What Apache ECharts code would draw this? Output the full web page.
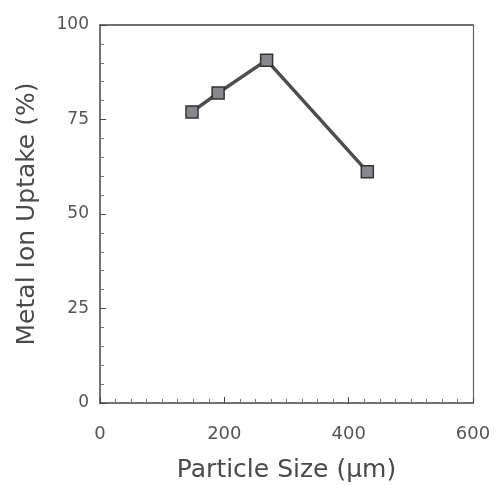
<!DOCTYPE html>
<html>
<head>
<meta charset="utf-8">
<script src="https://cdn.jsdelivr.net/npm/echarts@6/dist/echarts.min.js"></script>
<style>
  html, body { margin: 0; padding: 0; background: #fff; }
  #chart { width: 497px; height: 485px; }
</style>
</head>
<body>
<div id="chart"></div>
<script>
  // particle size (um) and metal ion uptake (%)
  const particleSize = [148, 190, 268, 430]
  const uptake = [77, 82, 90.7, 61.2]
  const xTicks = [0, 200, 400, 600]
  const yTicks = [0, 25, 50, 75, 100]

  const myChart = echarts.init(document.querySelector('#chart'))

  const axisGray = '#444'
  const labelGray = '#555'
  const font = 'DejaVu Sans'

  const option = {
    backgroundColor: '#fff',
    animation: false,
    // keep the plot box where it is in the picture
    grid: { left: 100, right: 24, top: 25, bottom: 82, outerBoundsMode: 'none' },
    xAxis: [
      {
        type: 'value',
        min: xTicks[0],
        max: xTicks[xTicks.length - 1],
        interval: 200,
        name: 'Particle Size (μm)',
        nameLocation: 'middle',
        nameGap: 55,
        nameTextStyle: { fontFamily: font, fontSize: 25, color: '#4a4a4a' },
        axisLine: { lineStyle: { color: axisGray, width: 1.5 } },
        axisTick: { inside: true, length: 6, lineStyle: { color: axisGray } },
        minorTick: { show: true, splitNumber: 8, length: 4, lineStyle: { color: '#777' } },
        axisLabel: { margin: 22, fontFamily: font, fontSize: 18, color: labelGray },
        splitLine: { show: false }
      },
      {
        type: 'value',
        position: 'top',
        min: 0, max: 600,
        axisLine: { onZero: false, lineStyle: { color: axisGray, width: 1.5 } },
        axisTick: { show: false },
        axisLabel: { show: false },
        splitLine: { show: false }
      }
    ],
    yAxis: [
      {
        type: 'value',
        min: yTicks[0],
        max: yTicks[yTicks.length - 1],
        interval: 25,
        name: 'Metal Ion Uptake (%)',
        nameLocation: 'middle',
        nameGap: 60,
        nameTextStyle: { fontFamily: font, fontSize: 25, color: '#4a4a4a' },
        axisLine: { show: true, lineStyle: { color: axisGray, width: 1.5 } },
        axisTick: { show: true, inside: true, length: 6, lineStyle: { color: axisGray } },
        minorTick: { show: true, splitNumber: 5, length: 4, lineStyle: { color: '#777' } },
        axisLabel: { margin: 11, fontFamily: font, fontSize: 17, color: labelGray },
        splitLine: { show: false }
      },
      {
        type: 'value',
        position: 'right',
        min: 0, max: 100,
        axisLine: { show: true, onZero: false, lineStyle: { color: '#666', width: 1.2 } },
        axisTick: { show: false },
        axisLabel: { show: false },
        splitLine: { show: false }
      }
    ],
    series: [
      {
        type: 'line',
        data: particleSize.map((v, i) => [v, uptake[i]]),
        symbol: 'rect',
        symbolSize: 12,
        lineStyle: { color: '#4d4d4d', width: 3.5 },
        itemStyle: { color: '#8a8690', borderColor: '#333', borderWidth: 1.5 }
      }
    ]
  }

  myChart.setOption(option)
</script>
</body>
</html>
